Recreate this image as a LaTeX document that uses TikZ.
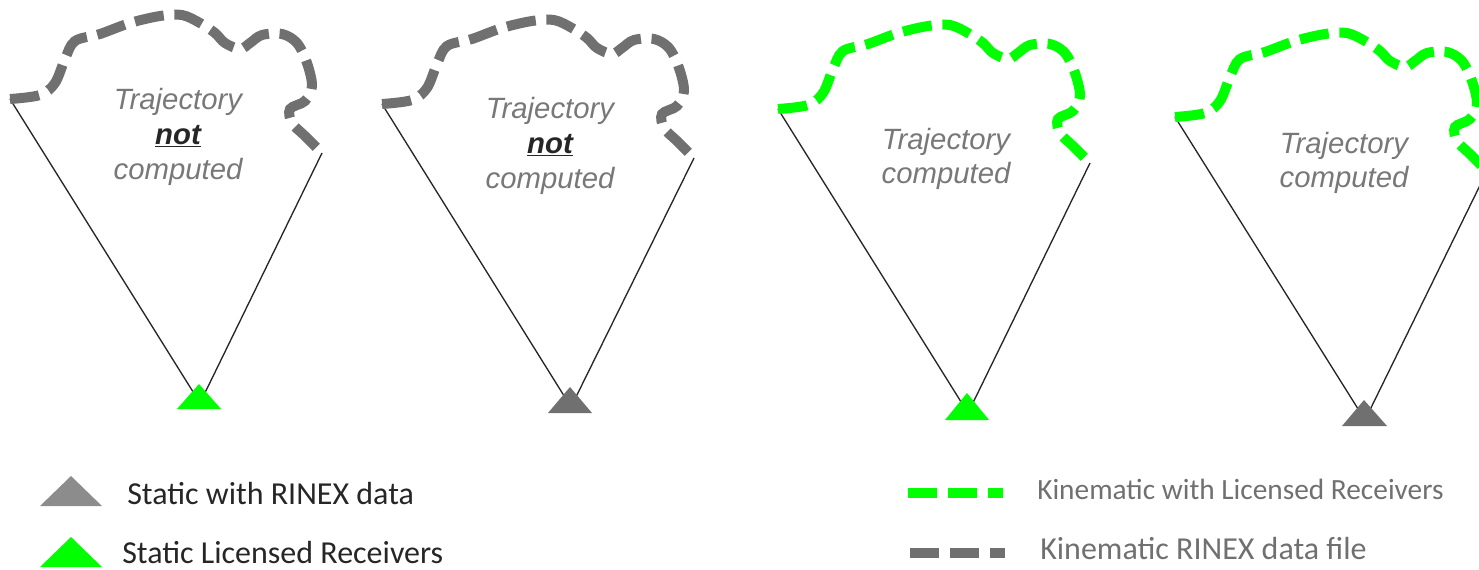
\documentclass[tikz,border=0pt]{standalone}
\usepackage{fontspec}
\setmainfont{Liberation Sans}
\newfontfamily\legendfont{Carlito}
\usetikzlibrary{positioning}

\definecolor{rinexgray}{RGB}{112,112,112}
\definecolor{licgreen}{RGB}{0,255,0}
\definecolor{legendgray}{RGB}{140,140,140}
\definecolor{labelgray}{RGB}{120,120,120}
\definecolor{legendtext}{RGB}{38,38,38}

\tikzset{
  kinline/.style={line width=7.5pt, dash pattern=on 22pt off 8pt},
  fovline/.style={line width=1pt, color=black!85},
  trajtext/.style={text=labelgray, font=\fontsize{22}{26}\selectfont\itshape, align=center, inner sep=0pt},
  legtext/.style={font=\legendfont\fontsize{24}{29}\selectfont, anchor=west, inner sep=0pt, text=legendtext},
  kintext/.style={font=\legendfont\fontsize{22}{27}\selectfont, anchor=west, inner sep=0pt, text=rinexgray},
  trajcloud/.pic={
    \draw[kinline] plot[smooth, tension=0.55] coordinates {(0,0) (30,-4) (45,-16) (55,-40) (65,-58) (90,-65) (120,-76) (150,-83) (172,-84) (190,-76) (205,-66) (215,-56) (230,-50) (240,-56) (252,-64) (272,-65) (287,-56) (297,-36) (302,-13) (295,2) (280,10) (282,24) (295,37) (312,54)};
  }
}

\begin{document}
\begin{tikzpicture}[x=0.75pt,y=0.75pt,yscale=-1,xscale=1]
\useasboundingbox (0,0) rectangle (1479,569);
\clip (0,0) rectangle (1479,569);

% panel ends and receivers
\coordinate (s1) at (10,99);   \coordinate (e1) at (322,153);  \coordinate (v1) at (200,403);  \coordinate (t1) at (199,384);
\coordinate (s2) at (382,104); \coordinate (e2) at (694,158);  \coordinate (v2) at (571,407);  \coordinate (t2) at (570,387);
\coordinate (s3) at (778,109); \coordinate (e3) at (1090,163); \coordinate (v3) at (968,413);  \coordinate (t3) at (967,393);
\coordinate (s4) at (1175,117);\coordinate (e4) at (1487,171); \coordinate (v4) at (1365,420); \coordinate (t4) at (1364,400);

%Panel I: static licensed, kinematic rinex
\draw[fovline] (s1) -- (v1) -- (e1);
\pic[color=rinexgray, transform shape] at (s1) {trajcloud};
\fill[licgreen] (t1) -- ++(22,25) -- ++(-44,0) -- cycle;
\node[trajtext] (lab1) at (178,137) {Trajectory\\{\color{legendtext}\underline{\textbf{not}}}\\computed};

%Panel II: static rinex, kinematic rinex
\draw[fovline] (s2) -- (v2) -- (e2);
\pic[color=rinexgray, transform shape] at (s2) {trajcloud};
\fill[rinexgray] (t2) -- ++(22,26) -- ++(-44,0) -- cycle;
\node[trajtext] (lab2) at (550,146) {Trajectory\\{\color{legendtext}\underline{\textbf{not}}}\\computed};

%Panel III: static licensed, kinematic licensed
\draw[fovline] (s3) -- (v3) -- (e3);
\pic[color=licgreen, transform shape] at (s3) {trajcloud};
\fill[licgreen] (t3) -- ++(22,27) -- ++(-44,0) -- cycle;
\node[trajtext] (lab3) at (946,159) {Trajectory\\computed};

%Panel IV: static rinex, kinematic licensed
\draw[fovline] (s4) -- (v4) -- (e4);
\pic[color=licgreen, transform shape] at (s4) {trajcloud};
\fill[rinexgray] (t4) -- ++(23,26) -- ++(-45,0) -- cycle;
\node[trajtext] (lab4) at (1344,163) {Trajectory\\computed};

% Legend
\coordinate (lg1) at (71,476);
\fill[legendgray] (lg1) -- ++(31,30) -- ++(-62,0) -- cycle;
\node[legtext] (leg1) at (127,493) {Static with RINEX data};
\coordinate (lg2) at (71,537);
\fill[licgreen] (lg2) -- ++(31,30) -- ++(-62,0) -- cycle;
\node[legtext] (leg2) at (122,552) {Static Licensed Receivers};

\coordinate (k1a) at (908,493); \coordinate (k1b) at (1003,493);
\draw[kinline, licgreen] (k1a) -- (k1b);
\node[kintext] (leg3) at (1037,489) {Kinematic with Licensed Receivers};
\coordinate (k2a) at (910,553); \coordinate (k2b) at (1005,553);
\draw[kinline, rinexgray] (k2a) -- (k2b);
\node[kintext, font=\legendfont\fontsize{24}{29}\selectfont] (leg4) at (1040,548) {Kinematic RINEX data file};

\end{tikzpicture}
\end{document}
